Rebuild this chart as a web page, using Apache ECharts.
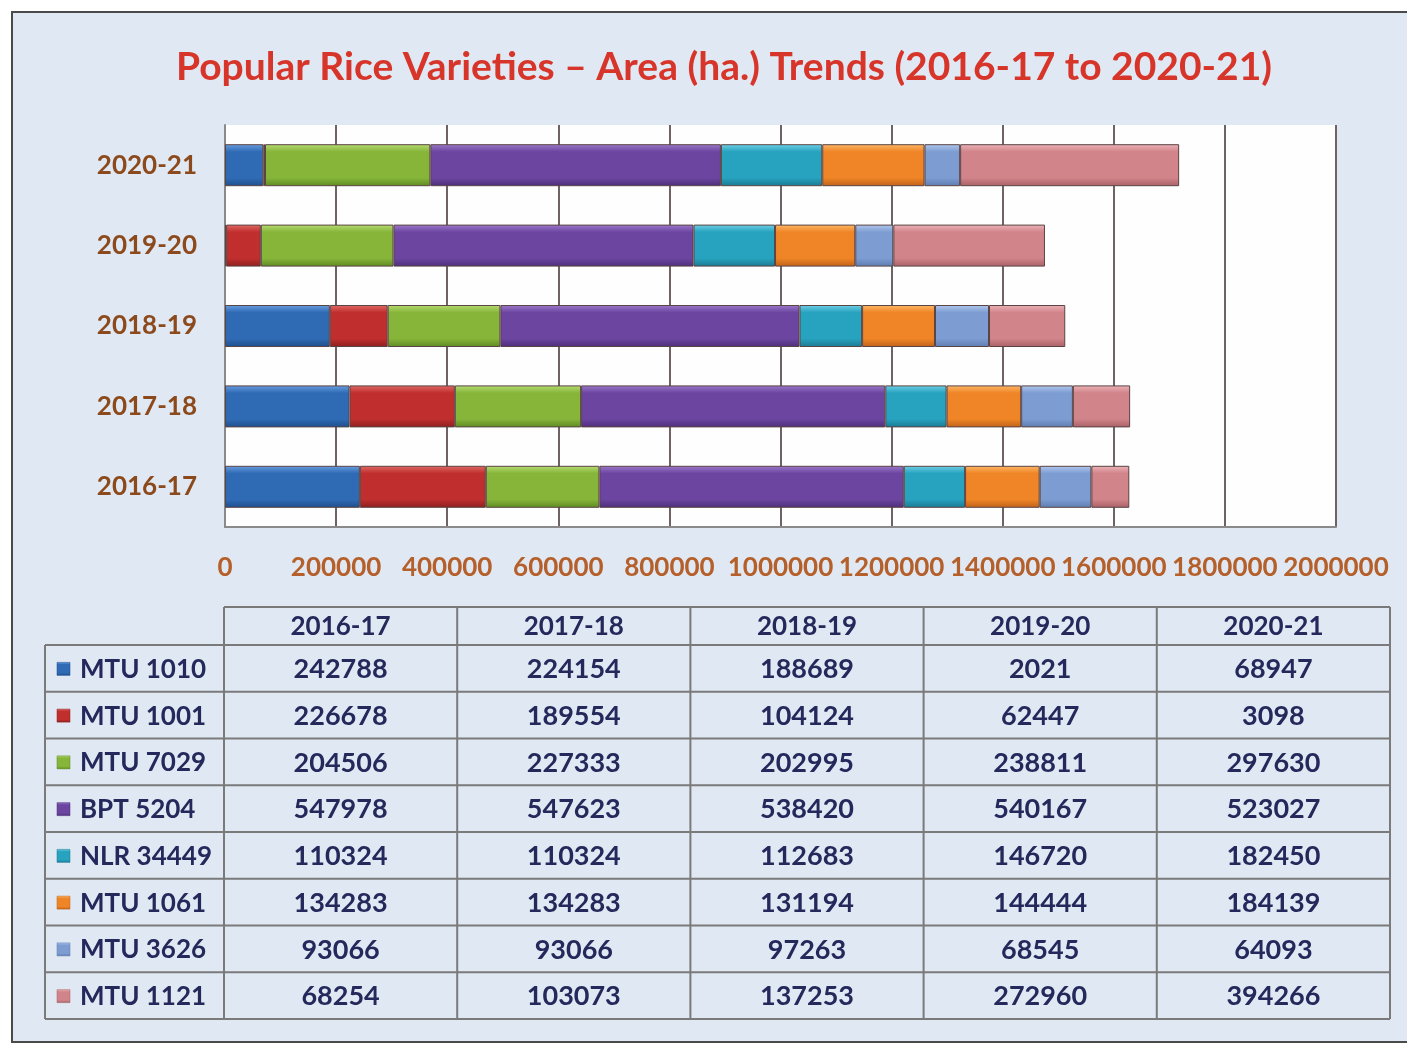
<!DOCTYPE html>
<html>
<head>
<meta charset="utf-8">
<script src="https://cdn.jsdelivr.net/npm/echarts@6/dist/echarts.min.js"></script>
<style>
html,body{margin:0;padding:0;background:#ffffff;}
#c{width:1407px;height:1045px;}
</style>
</head>
<body>
<div id="c"></div>
<script>
const titleText = 'Popular Rice Varieties \u2013 Area (ha.) Trends (2016-17 to 2020-21)';
const categories = ['2016-17', '2017-18', '2018-19', '2019-20', '2020-21'];
const varieties = ['MTU 1010', 'MTU 1001', 'MTU 7029', 'BPT 5204', 'NLR 34449', 'MTU 1061', 'MTU 3626', 'MTU 1121'];
const mtu1010 = [242788, 224154, 188689, 2021, 68947];
const mtu1001 = [226678, 189554, 104124, 62447, 3098];
const mtu7029 = [204506, 227333, 202995, 238811, 297630];
const bpt5204 = [547978, 547623, 538420, 540167, 523027];
const nlr34449 = [110324, 110324, 112683, 146720, 182450];
const mtu1061 = [134283, 134283, 131194, 144444, 184139];
const mtu3626 = [93066, 93066, 97263, 68545, 64093];
const mtu1121 = [68254, 103073, 137253, 272960, 394266];
const seriesValues = [mtu1010, mtu1001, mtu7029, bpt5204, nlr34449, mtu1061, mtu3626, mtu1121];
const axisMin = 0, axisMax = 2000000, axisStep = 200000;

const colors = ['#2f6bb5', '#c02f2e', '#86b53a', '#6c45a0', '#27a2bf', '#ef8526', '#7d9dd2', '#d1848a'];
const lighter = ['#6a9de0', '#e06a66', '#b6dc72', '#9c7acb', '#6fd0e6', '#fdb868', '#b2c8ee', '#ecb4b8'];
const darker = ['#1e4f8c', '#8e1f1f', '#5e8a22', '#4d2f7a', '#1a7a92', '#c0621a', '#5d7cb0', '#a86066'];

function grad(i) {
  return new echarts.graphic.LinearGradient(0, 0, 0, 1, [
    {offset: 0, color: lighter[i]},
    {offset: 0.18, color: colors[i]},
    {offset: 0.8, color: colors[i]},
    {offset: 1, color: darker[i]}
  ]);
}

const FONT = 'Lato, "Open Sans", sans-serif';
const chart = echarts.init(document.getElementById('c'), null, {renderer: 'canvas'});

// table layout
const tLeft = 45, tCol0 = 224, tRight = 1390;
const colW = (tRight - tCol0) / categories.length;
const hTop = 607, hBottom = 645, tBottom = 1019;
const rowH = (tBottom - hBottom) / varieties.length;
const lineStyle = {stroke: '#7a7a7a', lineWidth: 2};

const g = [];
// frame
g.push({type: 'rect', shape: {x: 12, y: 12, width: 1420, height: 1030}, style: {fill: '#dfe8f3', stroke: '#4a4a4a', lineWidth: 2}, z: -10, silent: true});
// header lines
g.push({type: 'line', shape: {x1: tCol0, y1: hTop, x2: tRight, y2: hTop}, style: lineStyle});
for (let r = 0; r <= varieties.length; r++) {
  const y = hBottom + r * rowH;
  g.push({type: 'line', shape: {x1: tLeft, y1: y, x2: tRight, y2: y}, style: lineStyle});
}
g.push({type: 'line', shape: {x1: tLeft, y1: hBottom, x2: tLeft, y2: tBottom}, style: lineStyle});
for (let c = 0; c <= categories.length; c++) {
  const x = tCol0 + c * colW;
  g.push({type: 'line', shape: {x1: x, y1: hTop, x2: x, y2: tBottom}, style: lineStyle});
}
const txtStyle = {fill: '#24285a', font: 'bold 27px ' + FONT, textAlign: 'center', textVerticalAlign: 'middle'};
categories.forEach((cat, c) => {
  g.push({type: 'text', x: tCol0 + (c + 0.5) * colW, y: (hTop + hBottom) / 2 + 1, style: Object.assign({}, txtStyle, {text: cat, font: 'bold 26px ' + FONT})});
});
varieties.forEach((v, r) => {
  const cy = hBottom + (r + 0.5) * rowH + 1;
  g.push({type: 'rect', shape: {x: 57, y: cy - 7, width: 13, height: 13}, style: {fill: grad(r), stroke: darker[r], lineWidth: 0.5}});
  g.push({type: 'text', x: 80, y: cy, style: Object.assign({}, txtStyle, {text: v, textAlign: 'left', font: 'bold 26px ' + FONT})});
  seriesValues[r].forEach((val, c) => {
    g.push({type: 'text', x: tCol0 + (c + 0.5) * colW, y: cy, style: Object.assign({}, txtStyle, {text: String(val)})});
  });
});

const option = {
  animation: false,
  backgroundColor: '#ffffff',
  title: {
    text: titleText, left: 719, textAlign: 'center', top: 43,
    textStyle: {color: '#d8352a', fontFamily: FONT, fontWeight: 'bold', fontSize: 39}
  },
  grid: {
    left: 225, right: 71, top: 125, bottom: 518, containLabel: false,
    show: true, backgroundColor: '#fefefe', borderWidth: 0
  },
  xAxis: {
    type: 'value', min: axisMin, max: axisMax, interval: axisStep,
    axisLine: {show: true, lineStyle: {color: '#8a8a8a', width: 2}},
    axisTick: {show: false},
    splitLine: {show: true, lineStyle: {color: '#6e6262', width: 2}},
    axisLabel: {color: '#b5602a', fontFamily: FONT, fontWeight: 'bold', fontSize: 26, margin: 28, hideOverlap: false, formatter: v => String(v)}
  },
  yAxis: {
    type: 'category', data: categories,
    axisLine: {show: true, lineStyle: {color: '#8a8a8a', width: 2}},
    axisTick: {show: false},
    axisLabel: {color: '#8c4a1c', fontFamily: FONT, fontWeight: 'bold', fontSize: 26, margin: 28}
  },
  series: varieties.map((name, i) => ({
    name: name, type: 'bar', stack: 'total', data: seriesValues[i],
    barWidth: 42,
    itemStyle: {color: grad(i), borderColor: '#5b4444', borderWidth: 1}
  })),
  graphic: g
};
chart.setOption(option);
</script>
</body>
</html>
